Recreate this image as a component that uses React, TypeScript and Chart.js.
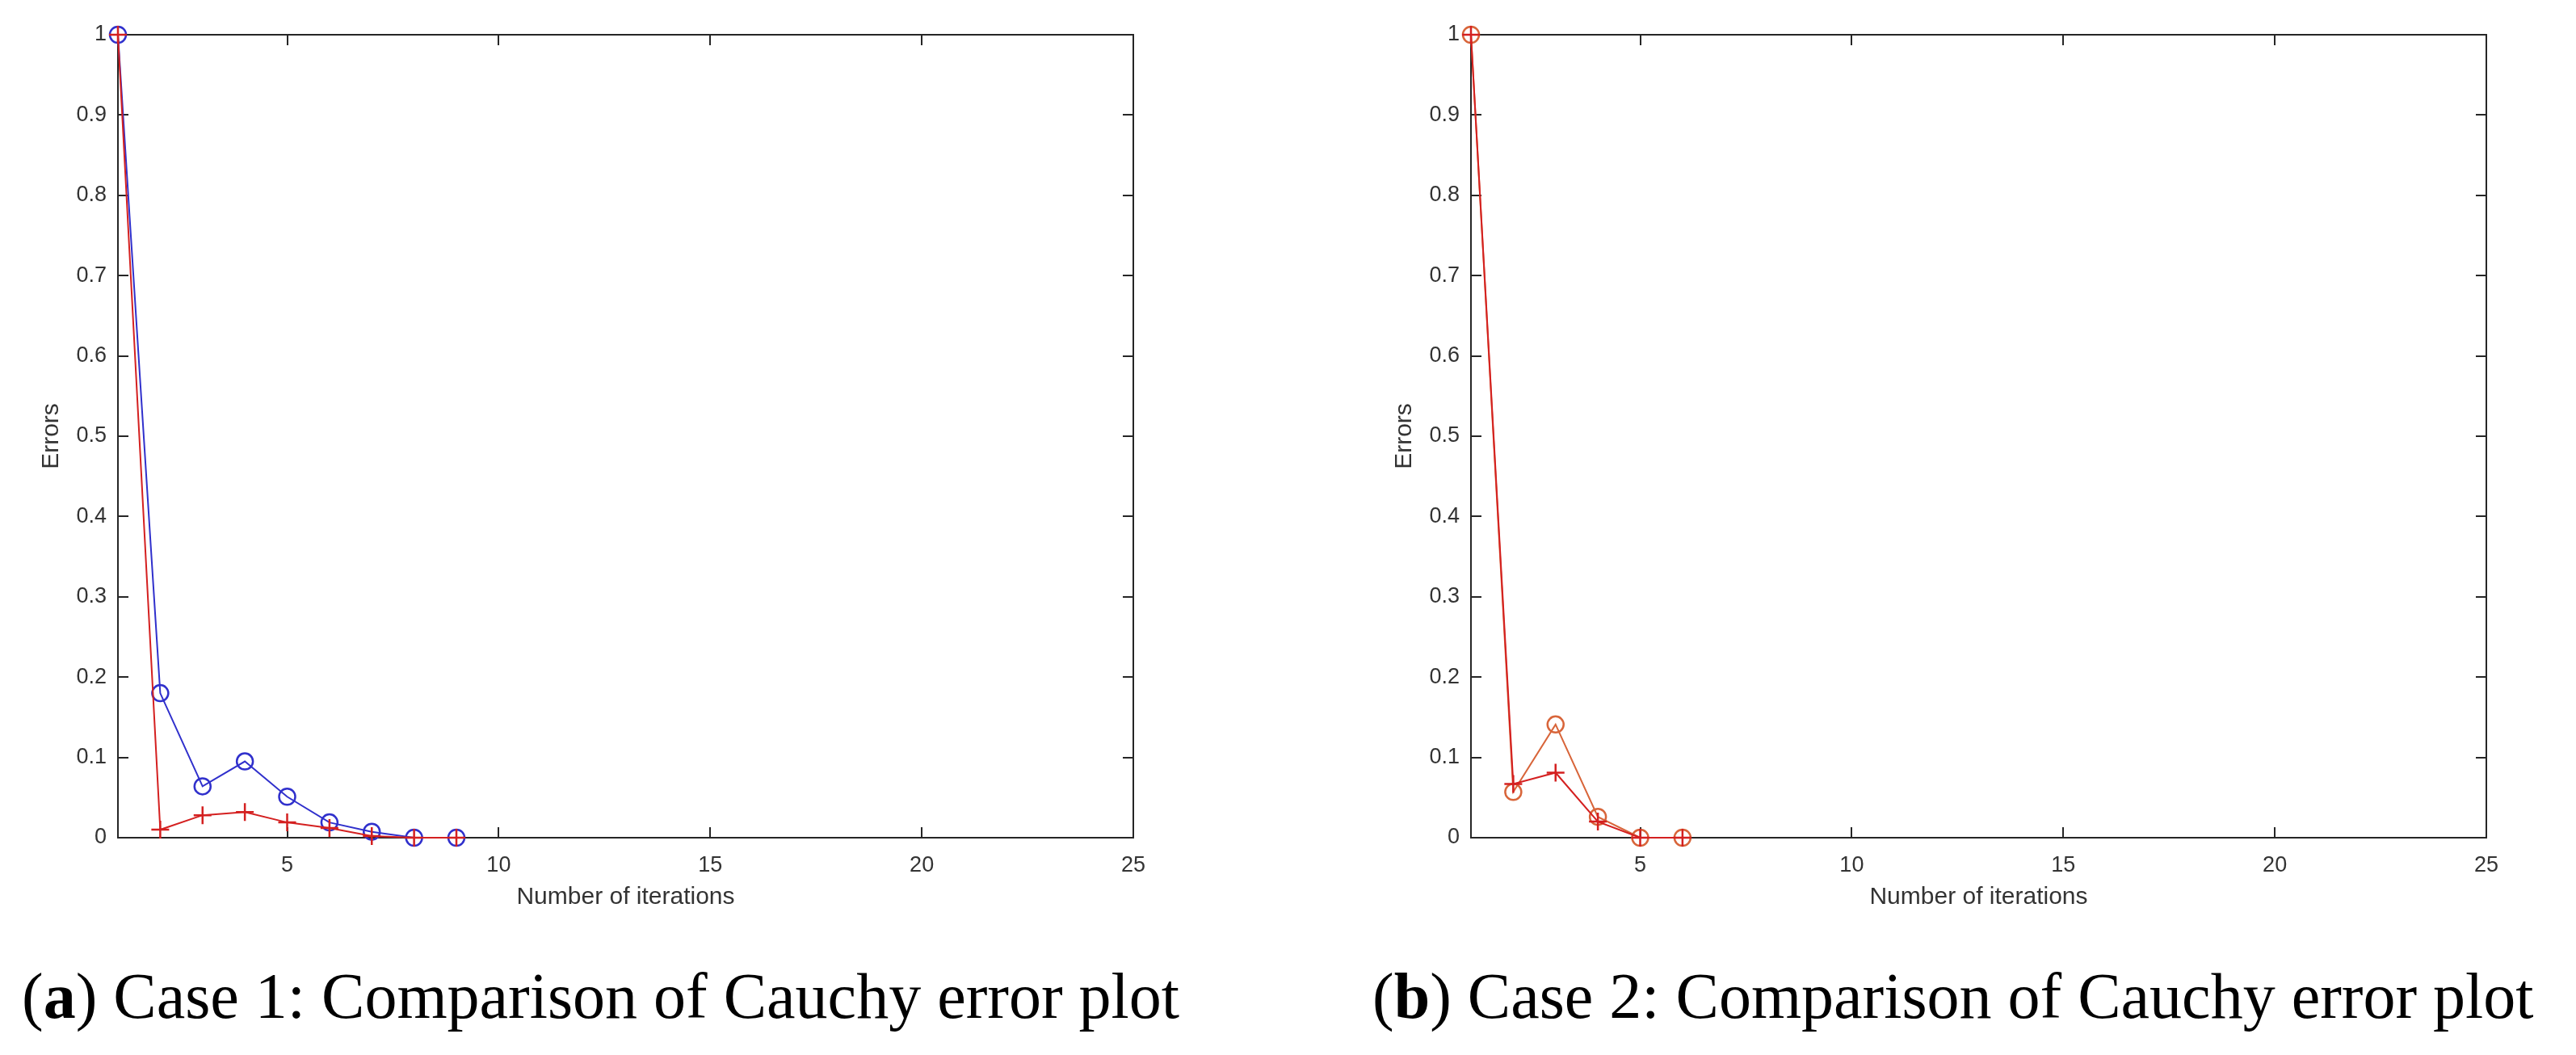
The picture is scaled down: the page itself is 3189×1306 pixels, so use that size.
import React, { useEffect, useRef } from 'react';
import { Chart, registerables } from 'chart.js';

Chart.register(...registerables);

// ---- data ----
const ITER_CASE1 = [1, 2, 3, 4, 5, 6, 7, 8, 9];
const CASE1_CIRCLE = [1, 0.18, 0.064, 0.095, 0.051, 0.019, 0.0074, 0, 0];
const CASE1_PLUS = [1, 0.01, 0.028, 0.032, 0.019, 0.012, 0.002, 0, 0];

const ITER_CASE2 = [1, 2, 3, 4, 5, 6];
const CASE2_CIRCLE = [1, 0.057, 0.141, 0.026, 0, 0];
const CASE2_PLUS = [1, 0.067, 0.081, 0.02, 0, 0];

const X_TICKS = [5, 10, 15, 20, 25];
const Y_TICKS = [0, 0.1, 0.2, 0.3, 0.4, 0.5, 0.6, 0.7, 0.8, 0.9, 1];
const X_MIN = 1;
const X_MAX = 25;

const CAPTION_A_LABEL = 'a';
const CAPTION_A_TEXT = ' Case 1: Comparison of Cauchy error plot';
const CAPTION_B_LABEL = 'b';
const CAPTION_B_TEXT = ' Case 2: Comparison of Cauchy error plot';

// ---- styles ----
const AXIS_COLOR = '#262626';
const TEXT_COLOR = '#333333';
const TICK_LEN = 13;
const CANVAS_W = 1500;
const CANVAS_H = 1180;
const FONT = '"Liberation Sans", Arial, Helvetica, sans-serif';

const framePlugin = {
  id: 'octaveFrame',
  beforeDatasetsDraw(chart: any) {
    const { ctx, chartArea: a, scales } = chart;
    const xs = scales.x;
    const ys = scales.y;
    ctx.save();
    ctx.strokeStyle = AXIS_COLOR;
    ctx.lineWidth = 2;
    ctx.strokeRect(a.left, a.top, a.right - a.left, a.bottom - a.top);
    ctx.beginPath();
    xs.ticks.forEach((t: any) => {
      const px = Math.round(xs.getPixelForValue(t.value));
      ctx.moveTo(px, a.bottom);
      ctx.lineTo(px, a.bottom - TICK_LEN);
      ctx.moveTo(px, a.top);
      ctx.lineTo(px, a.top + TICK_LEN);
    });
    ys.ticks.forEach((t: any) => {
      const py = Math.round(ys.getPixelForValue(t.value));
      ctx.moveTo(a.left, py);
      ctx.lineTo(a.left + TICK_LEN, py);
      ctx.moveTo(a.right, py);
      ctx.lineTo(a.right - TICK_LEN, py);
    });
    ctx.stroke();
    ctx.restore();
  },
};

type Series = { xs: number[]; ys: number[]; color: string; style: 'circle' | 'cross'; order: number };

function Plot({ series, left }: { series: Series[]; left: number }) {
  const ref = useRef<HTMLCanvasElement | null>(null);
  useEffect(() => {
    if (!ref.current) return;
    const chart = new Chart(ref.current, {
      type: 'line',
      data: {
        datasets: series.map((s) => ({
          data: s.xs.map((x, i) => ({ x, y: s.ys[i] })),
          borderColor: s.color,
          backgroundColor: 'rgba(0,0,0,0)',
          borderWidth: 2,
          pointStyle: s.style,
          pointRadius: s.style === 'circle' ? 10 : 11,
          pointBorderWidth: 2.5,
          pointBorderColor: s.color,
          pointBackgroundColor: 'rgba(0,0,0,0)',
          tension: 0,
          clip: false as any,
          order: s.order,
        })),
      },
      options: {
        animation: false,
        responsive: false,
        devicePixelRatio: 1,
        events: [],
        layout: { padding: { left: 0, top: 43, right: 97, bottom: 43 } },
        plugins: { legend: { display: false }, tooltip: { enabled: false } },
        scales: {
          x: {
            type: 'linear',
            min: X_MIN,
            max: X_MAX,
            grid: { display: false, drawTicks: false },
            border: { display: false },
            afterBuildTicks: (sc: any) => {
              sc.ticks = X_TICKS.map((v) => ({ value: v }));
            },
            afterFit: (sc: any) => {
              sc.height = 100;
            },
            ticks: {
              autoSkip: false,
              maxRotation: 0,
              padding: 18,
              color: TEXT_COLOR,
              font: { family: FONT, size: 27 },
              callback: (v: any) => String(v),
            },
            title: {
              display: true,
              text: 'Number of iterations',
              color: TEXT_COLOR,
              font: { family: FONT, size: 30 },
              padding: { top: 0, bottom: 8 },
            },
          },
          y: {
            type: 'linear',
            min: 0,
            max: 1,
            grid: { display: false, drawTicks: false },
            border: { display: false },
            afterBuildTicks: (sc: any) => {
              sc.ticks = Y_TICKS.map((v) => ({ value: v }));
            },
            afterFit: (sc: any) => {
              sc.width = 146;
            },
            ticks: {
              autoSkip: false,
              padding: 14,
              color: TEXT_COLOR,
              font: { family: FONT, size: 27 },
              callback: (v: any) => String(Math.round(Number(v) * 10) / 10),
            },
            title: {
              display: true,
              text: 'Errors',
              color: TEXT_COLOR,
              font: { family: FONT, size: 30 },
              padding: { top: 46, bottom: 0 },
            },
          },
        },
      },
      plugins: [framePlugin],
    } as any);
    return () => chart.destroy();
  }, []);
  return (
    <canvas
      ref={ref}
      width={CANVAS_W}
      height={CANVAS_H}
      style={{ position: 'absolute', left, top: 0, width: CANVAS_W, height: CANVAS_H }}
    />
  );
}

function Caption({ label, text, left }: { label: string; text: string; left: number }) {
  return (
    <div
      style={{
        position: 'absolute',
        left,
        top: 1193,
        font: '80px "Liberation Serif", "Times New Roman", serif',
        lineHeight: '80px',
        whiteSpace: 'nowrap',
        color: '#000',
      }}
    >
      (<b>{label}</b>){text}
    </div>
  );
}

export default function App() {
  const case1: Series[] = [
    { xs: ITER_CASE1, ys: CASE1_CIRCLE, color: '#3030cc', style: 'circle', order: 1 },
    { xs: ITER_CASE1, ys: CASE1_PLUS, color: '#d42020', style: 'cross', order: 0 },
  ];
  const case2: Series[] = [
    { xs: ITER_CASE2, ys: CASE2_CIRCLE, color: '#d8653a', style: 'circle', order: 1 },
    { xs: ITER_CASE2, ys: CASE2_PLUS, color: '#d42020', style: 'cross', order: 0 },
  ];
  return (
    <div style={{ position: 'absolute', left: 0, top: 0, width: 3189, height: 1306, background: '#fff', overflow: 'hidden' }}>
      <Plot series={case1} left={0} />
      <Plot series={case2} left={1675} />
      <Caption label={CAPTION_A_LABEL} text={CAPTION_A_TEXT} left={27} />
      <Caption label={CAPTION_B_LABEL} text={CAPTION_B_TEXT} left={1699} />
    </div>
  );
}
